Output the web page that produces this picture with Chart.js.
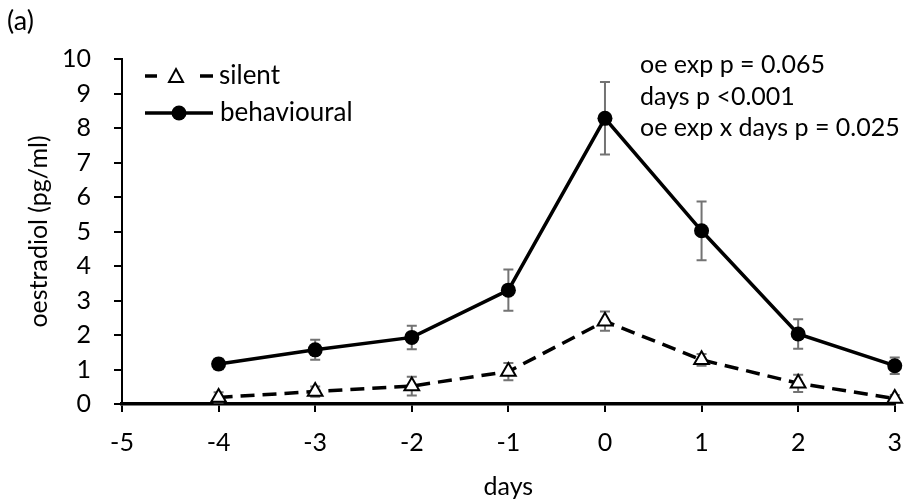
<!DOCTYPE html>
<html>
<head>
<meta charset="utf-8">
<script src="https://cdn.jsdelivr.net/npm/chart.js@4.4.1/dist/chart.umd.min.js"></script>
<style>
  html, body { margin: 0; padding: 0; background: #fff; }
  #wrap { width: 918px; height: 504px; position: relative; }
</style>
</head>
<body>
<div id="wrap"><canvas id="chart" width="918" height="504"></canvas></div>
<script>
// valeurs (a)
const DAYS = [-4, -3, -2, -1, 0, 1, 2, 3];
const BEHAVIOURAL = [1.16, 1.57, 1.93, 3.30, 8.28, 5.02, 2.03, 1.11];
const BEHAVIOURAL_ERR = [0.15, 0.29, 0.34, 0.60, 1.05, 0.85, 0.43, 0.24];
const SILENT = [0.19, 0.36, 0.52, 0.94, 2.40, 1.28, 0.60, 0.16];
const SILENT_ERR = [0.15, 0.15, 0.27, 0.25, 0.28, 0.17, 0.25, 0.10];
const X_TICKS = [-5, -4, -3, -2, -1, 0, 1, 2, 3];
const Y_TICKS = [0, 1, 2, 3, 4, 5, 6, 7, 8, 9, 10];
const STATS = ['oe exp p = 0.065', 'days p <0.001', 'oe exp x days p = 0.025'];

const FONT = 'Lato, "Open Sans", sans-serif';
Chart.defaults.font.family = FONT;
Chart.defaults.color = '#000';

const toPoints = (ys) => DAYS.map((d, i) => ({ x: d, y: ys[i] }));

// barres d'erreur grises, dessinées sous les marqueurs
const errorBars = {
  id: 'errorBars',
  beforeDatasetsDraw(chart) {
    const { ctx, scales: { x, y } } = chart;
    const sets = [[SILENT, SILENT_ERR], [BEHAVIOURAL, BEHAVIOURAL_ERR]];
    ctx.save();
    ctx.strokeStyle = '#737373';
    ctx.lineWidth = 2;
    sets.forEach(([vals, errs]) => {
      vals.forEach((v, i) => {
        const px = x.getPixelForValue(DAYS[i]);
        const top = y.getPixelForValue(v + errs[i]);
        const bot = y.getPixelForValue(Math.max(0, v - errs[i]));
        ctx.beginPath();
        ctx.moveTo(px, top); ctx.lineTo(px, bot);
        ctx.moveTo(px - 5, top); ctx.lineTo(px + 5, top);
        ctx.moveTo(px - 5, bot); ctx.lineTo(px + 5, bot);
        ctx.stroke();
      });
    });
    ctx.restore();
  }
};

// légende, étiquette du panneau et statistiques
const overlay = {
  id: 'overlay',
  afterDraw(chart) {
    const { ctx } = chart;
    ctx.save();
    ctx.fillStyle = '#000';
    ctx.textBaseline = 'middle';
    ctx.font = '27px ' + FONT;
    ctx.fillText('(a)', 7, 21);

    // silent
    ctx.strokeStyle = '#000';
    ctx.lineWidth = 3.5;
    ctx.beginPath();
    ctx.moveTo(145, 76); ctx.lineTo(157, 76);
    ctx.moveTo(200, 76); ctx.lineTo(213, 76);
    ctx.stroke();
    ctx.lineWidth = 2;
    ctx.fillStyle = '#fff';
    ctx.beginPath();
    ctx.moveTo(176, 69); ctx.lineTo(183, 82); ctx.lineTo(169, 82); ctx.closePath();
    ctx.fill(); ctx.stroke();
    // behavioural
    ctx.lineWidth = 3.5;
    ctx.beginPath();
    ctx.moveTo(145, 113); ctx.lineTo(213, 113);
    ctx.stroke();
    ctx.fillStyle = '#000';
    ctx.beginPath();
    ctx.arc(179, 113, 7.5, 0, Math.PI * 2);
    ctx.fill();

    ctx.font = '26px ' + FONT;
    ctx.fillText('silent', 219, 76);
    ctx.fillText('behavioural', 220, 113);

    ctx.font = '25px ' + FONT;
    STATS.forEach((s, i) => ctx.fillText(s, 640, 65 + i * 31.5));
    ctx.restore();
  }
};

new Chart(document.getElementById('chart'), {
  type: 'line',
  data: {
    datasets: [
      {
        label: 'silent',
        data: toPoints(SILENT),
        borderColor: '#000',
        borderWidth: 3.5,
        borderDash: [14, 8],
        pointStyle: 'triangle',
        pointRadius: 8.5,
        pointBackgroundColor: '#fff',
        pointBorderColor: '#000',
        pointBorderWidth: 2,
        tension: 0,
        clip: false
      },
      {
        label: 'behavioural',
        data: toPoints(BEHAVIOURAL),
        borderColor: '#000',
        borderWidth: 3.5,
        pointStyle: 'circle',
        pointRadius: 7.5,
        pointBackgroundColor: '#000',
        pointBorderColor: '#000',
        pointBorderWidth: 0,
        tension: 0,
        clip: false
      }
    ]
  },
  options: {
    responsive: false,
    animation: false,
    layout: { padding: { top: 59, right: 10, left: 0, bottom: 0 } },
    plugins: { legend: { display: false }, tooltip: { enabled: false } },
    scales: {
      x: {
        type: 'linear',
        min: -5, max: 3,
        afterBuildTicks: (s) => { s.ticks = X_TICKS.map((v) => ({ value: v })); },
        afterFit: (s) => { s.height = 100; },
        grid: { drawOnChartArea: false, drawTicks: true, tickLength: 8, color: '#000', lineWidth: 2 },
        border: { color: '#000', width: 3.5 },
        ticks: { font: { size: 25 }, padding: 16, color: '#000', maxRotation: 0 },
        title: { display: true, text: 'days', font: { size: 25 }, padding: { top: 0, bottom: 2 }, color: '#000' }
      },
      y: {
        min: 0, max: 10,
        afterBuildTicks: (s) => { s.ticks = Y_TICKS.map((v) => ({ value: v })); },
        afterFit: (s) => { s.width = 122; },
        grid: { drawOnChartArea: false, drawTicks: true, tickLength: 8, color: '#000', lineWidth: 2 },
        border: { color: '#000', width: 2 },
        ticks: { font: { size: 25 }, padding: 23, color: '#000' },
        title: { display: true, text: 'oestradiol (pg/ml)', font: { size: 25 }, padding: { top: 24, bottom: 0 }, color: '#000' }
      }
    }
  },
  plugins: [errorBars, overlay]
});
</script>
</body>
</html>
